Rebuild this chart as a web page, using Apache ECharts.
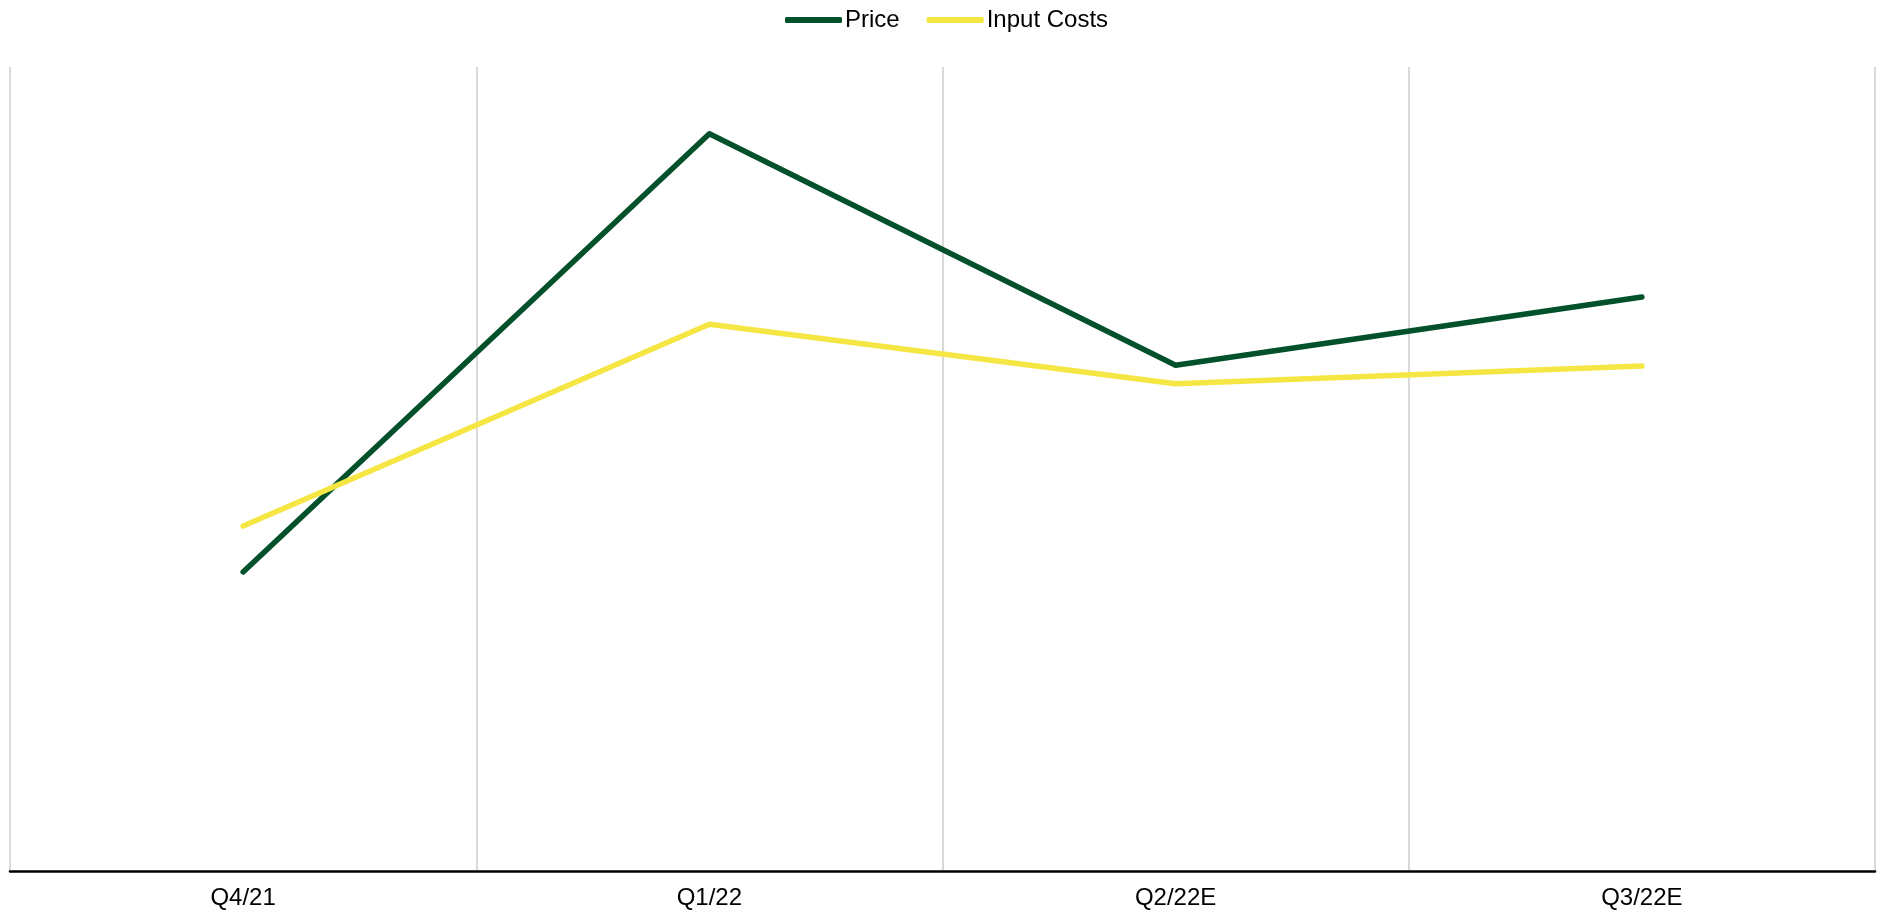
<!DOCTYPE html>
<html>
<head>
<meta charset="utf-8">
<style>
  html, body { margin: 0; padding: 0; background: #ffffff; }
  #chart { width: 1880px; height: 913px; }
</style>
<script src="https://cdn.jsdelivr.net/npm/echarts@6/dist/echarts.min.js"></script>
</head>
<body>
<div id="chart"></div>
<script>
// Quarterly index: price vs. input costs
const quarters = ['Q4/21', 'Q1/22', 'Q2/22E', 'Q3/22E'];
const priceValues = [37.2, 91.7, 62.9, 71.4];
const inputCostValues = [42.9, 68.0, 60.6, 62.8];

const chart = echarts.init(document.getElementById('chart'));
const font = 'Liberation Sans, Arial, sans-serif';

chart.setOption({
  animation: false,
  backgroundColor: '#ffffff',
  textStyle: { fontFamily: font },
  legend: {
    top: 3,
    left: 780,
    icon: 'roundRect',
    itemWidth: 57,
    itemHeight: 6,
    itemGap: 27,
    textStyle: { fontSize: 24, color: '#000000', fontFamily: font, padding: [0, 0, 0, -2] },
    data: ['Price', 'Input Costs']
  },
  grid: { left: 10, right: 5, top: 67, bottom: 42, containLabel: false },
  xAxis: {
    type: 'category',
    data: quarters,
    boundaryGap: true,
    axisLine: { show: true, lineStyle: { color: '#000000', width: 2.5 } },
    axisTick: { show: false },
    axisLabel: { fontSize: 24, color: '#000000', margin: 15, fontFamily: font },
    splitLine: { show: true, lineStyle: { color: '#d9d9d9', width: 2 } }
  },
  yAxis: {
    type: 'value',
    min: 0,
    max: 100,
    show: false,
    splitLine: { show: false }
  },
  series: [
    {
      name: 'Price',
      type: 'line',
      data: priceValues,
      symbol: 'none',
      lineStyle: { color: '#03512a', width: 5.5, cap: 'round', join: 'round' },
      itemStyle: { color: '#03512a' }
    },
    {
      name: 'Input Costs',
      type: 'line',
      data: inputCostValues,
      symbol: 'none',
      lineStyle: { color: '#f5e643', width: 5.5, cap: 'round', join: 'round' },
      itemStyle: { color: '#f5e643' }
    }
  ]
});
</script>
</body>
</html>
